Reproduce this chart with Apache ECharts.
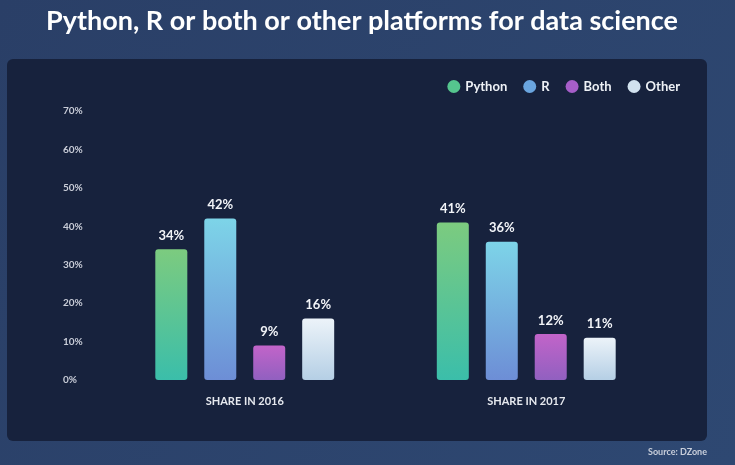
<!DOCTYPE html>
<html>
<head>
<meta charset="utf-8">
<script src="https://cdn.jsdelivr.net/npm/echarts@6/dist/echarts.min.js"></script>
<style>
html,body{margin:0;padding:0;width:735px;height:465px;overflow:hidden;background:#2b4169;}
#c{width:735px;height:465px;}
</style>
</head>
<body>
<div id="c"></div>
<script>
var categories = ['SHARE IN 2016', 'SHARE IN 2017'];
var seriesNames = ['Python', 'R', 'Both', 'Other'];
var python = [34, 41];
var rLang = [42, 36];
var both = [9, 12];
var other = [16, 11];
var yTicks = [0, 10, 20, 30, 40, 50, 60, 70];

var seriesValues = [python, rLang, both, other];
var gradients = [
  ['#7ccb7f', '#3bbeaa'],
  ['#7dd4e8', '#6d8ed6'],
  ['#c264c9', '#9160c0'],
  ['#ecf3f9', '#b5cfe5']
];
var legendColors = ['#55c58e', '#6aa5df', '#a65ec9', '#d2e2ef'];
var FONT = 'Lato, "Open Sans", sans-serif';

var chart = echarts.init(document.getElementById('c'), null, {renderer: 'canvas'});

var series = seriesNames.map(function (name, i) {
  return {
    name: name,
    type: 'bar',
    data: seriesValues[i],
    barWidth: 32,
    barGap: '53%',
    itemStyle: {
      borderRadius: 3,
      color: new echarts.graphic.LinearGradient(0, 0, 0, 1, [
        {offset: 0, color: gradients[i][0]},
        {offset: 1, color: gradients[i][1]}
      ])
    },
    label: {
      show: true,
      position: 'top',
      distance: 7,
      formatter: '{c}%',
      color: '#f2f4f8',
      fontFamily: FONT,
      fontWeight: 'bold',
      fontSize: 13
    }
  };
});

chart.setOption({
  backgroundColor: new echarts.graphic.LinearGradient(0, 0, 1, 1, [
    {offset: 0, color: '#2a3f67'},
    {offset: 1, color: '#2e4872'}
  ]),
  animation: false,
  title: {
    text: 'Python, R or both or other platforms for data science',
    left: 41,
    top: 3,
    textStyle: {color: '#ffffff', fontFamily: FONT, fontWeight: 'bold', fontSize: 27}
  },
  graphic: [
    {
      type: 'rect', z: -10, silent: true,
      shape: {x: 7, y: 59, width: 700, height: 382, r: 6},
      style: {fill: '#17223d'}
    },
    {
      type: 'text', right: 28, top: 448,
      style: {text: 'Source: DZone', fill: '#c9cfdb', font: 'bold 9px ' + FONT}
    }
  ],
  legend: {
    right: 50,
    top: 75,
    icon: 'circle',
    itemWidth: 13,
    itemHeight: 13,
    itemGap: 16,
    textStyle: {color: '#eef1f6', fontFamily: FONT, fontWeight: 'bold', fontSize: 13},
    data: seriesNames.map(function (n, i) {
      return {name: n, itemStyle: {color: legendColors[i]}};
    })
  },
  grid: {left: 104, right: 68, top: 111, bottom: 85},
  xAxis: {
    type: 'category',
    data: categories,
    axisLine: {show: false},
    axisTick: {show: false},
    axisLabel: {color: '#e6e9ef', fontFamily: FONT, fontWeight: 'bold', fontSize: 11, margin: 16}
  },
  yAxis: {
    type: 'value',
    min: yTicks[0],
    max: yTicks[yTicks.length - 1],
    interval: 10,
    splitLine: {show: false},
    axisLine: {show: false},
    axisTick: {show: false},
    axisLabel: {
      color: '#c9cdd8', fontFamily: FONT, fontWeight: 'bold', fontSize: 10,
      align: 'left', margin: 41, verticalAlign: 'middle',
      formatter: '{value}%'
    }
  },
  series: series
});
</script>
</body>
</html>
